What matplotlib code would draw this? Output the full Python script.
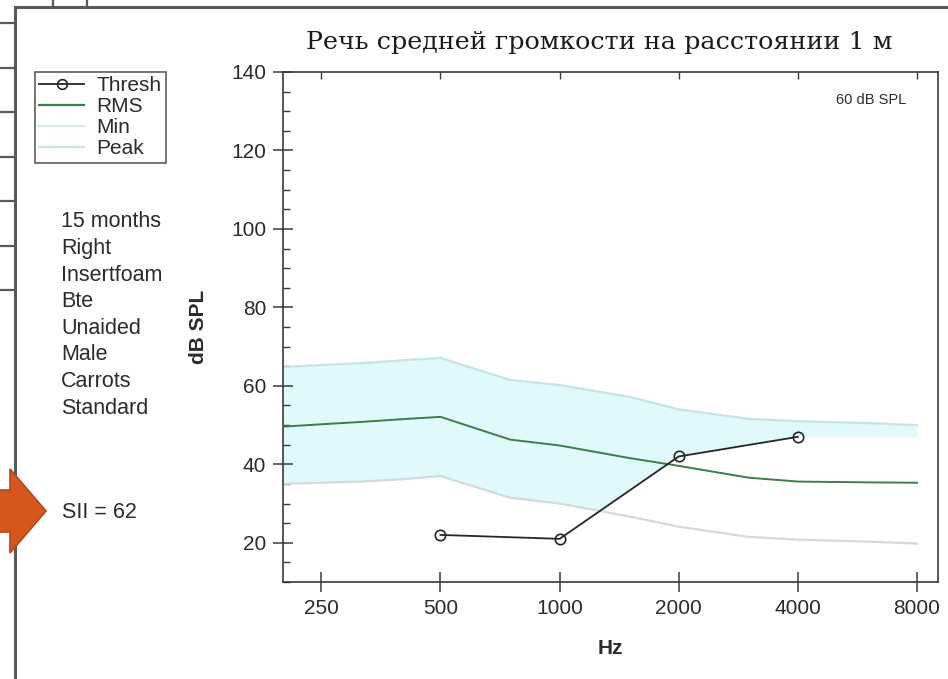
import numpy as np
import matplotlib.pyplot as plt
from matplotlib.lines import Line2D
from matplotlib.patches import Polygon
from matplotlib.ticker import FixedLocator, MultipleLocator, NullLocator, FixedFormatter

# speech spectrum (dB SPL) on a log-frequency grid
freqs = [200, 250, 315, 400, 500, 750, 1000, 1500, 2000, 3000, 4000, 6000, 8000]
peak = [64.8, 65.3, 65.8, 66.5, 67.1, 61.5, 60.2, 57.2, 54.0, 51.6, 51.0, 50.5, 50.0]
rms = [49.6, 50.2, 50.8, 51.5, 52.1, 46.3, 44.8, 41.6, 39.6, 36.6, 35.6, 35.4, 35.3]
minimum = [35.0, 35.3, 35.6, 36.2, 37.0, 31.5, 30.0, 26.7, 24.1, 21.5, 20.8, 20.3, 19.8]

# hearing threshold
thresh_freqs = [500, 1000, 2000, 4000]
thresh = [22, 21, 42, 47]

tick_freqs = [250, 500, 1000, 2000, 4000, 8000]
info_lines = ["15 months", "Right", "Insertfoam", "Bte", "Unaided", "Male", "Carrots", "Standard"]
sii = 62

W, H = 948, 679
plt.rcParams['font.family'] = ['Liberation Sans', 'DejaVu Sans']
text_col = '#2b2b2b'


def fx(x):
    return x / W


def fy(y):
    return 1 - y / H


fig = plt.figure(figsize=(W / 100, H / 100), dpi=100)
fig.patch.set_facecolor('white')

# page frame
frame_col = '#5a5a5a'
fig.add_artist(Line2D([fx(15), fx(15)], [fy(7), fy(679)], color=frame_col, lw=2.2, transform=fig.transFigure))
fig.add_artist(Line2D([fx(15), fx(948)], [fy(7), fy(7)], color=frame_col, lw=2.2, transform=fig.transFigure))
for yy in [23, 67.5, 112, 156.5, 201, 245.5, 290]:
    fig.add_artist(Line2D([0, fx(15)], [fy(yy), fy(yy)], color=frame_col, lw=1.6, transform=fig.transFigure))
for xx in [53, 87]:
    fig.add_artist(Line2D([fx(xx), fx(xx)], [fy(0), fy(7)], color=frame_col, lw=1.6, transform=fig.transFigure))

ax = fig.add_axes([fx(283), fy(582), fx(938 - 283), (582 - 72) / H])

grid = np.geomspace(200, 8000, 800)
lg = np.log(grid)
peak_g = np.interp(lg, np.log(freqs), peak)
min_g = np.interp(lg, np.log(freqs), minimum)
thr_g = np.interp(lg, np.log(thresh_freqs), thresh)
audible_low = np.maximum(min_g, thr_g)

ax.fill_between(grid, audible_low, peak_g, where=peak_g > audible_low,
                color='#e0fafb', lw=0, zorder=1)
ax.plot(freqs, peak, color='#c4e4e7', lw=1.6, zorder=2)
ax.plot(freqs, minimum, color='#d2dbdc', lw=1.6, zorder=2)
ax.plot(freqs, rms, color='#3d7d4c', lw=1.4, zorder=3)
ax.plot(thresh_freqs, thresh, color='#262626', lw=1.3, marker='o', ms=7.5,
        mfc='none', mec='#262626', mew=1.2, zorder=4)

ax.set_xscale('log')
ax.set_xlim(200, 9040)
ax.set_ylim(10, 140)
ax.xaxis.set_major_locator(FixedLocator(tick_freqs))
ax.xaxis.set_major_formatter(FixedFormatter([str(f) for f in tick_freqs]))
ax.xaxis.set_minor_locator(NullLocator())
ax.yaxis.set_major_locator(MultipleLocator(20))
ax.yaxis.set_minor_locator(MultipleLocator(5))

for s in ax.spines.values():
    s.set_color('#3a3a3a')
    s.set_linewidth(1.2)

ax.tick_params(axis='both', which='major', direction='inout', length=14, width=1.1,
               color='#3a3a3a', labelsize=15, labelcolor=text_col, pad=5)
ax.tick_params(axis='y', which='minor', direction='in', length=5, width=1.0, color='#3a3a3a')

# short inward ticks along the top edge
top = ax.secondary_xaxis('top')
top.xaxis.set_major_locator(FixedLocator(tick_freqs))
top.xaxis.set_minor_locator(NullLocator())
top.tick_params(direction='in', length=5, width=1.0, color='#3a3a3a', labeltop=False)
top.spines['top'].set_visible(False)

ax.set_xlabel('Hz', fontsize=15, fontweight='bold', color=text_col)
ax.xaxis.set_label_coords(0.5, -0.112)
ax.set_ylabel('dB SPL', fontsize=15, fontweight='bold', color=text_col)
ax.yaxis.set_label_coords(-0.115, 0.5)

ax.text(0.951, 0.945, '60 dB SPL', transform=ax.transAxes, ha='right', va='center',
        fontsize=10.5, color=text_col)

fig.text(fx(599), fy(42), 'Речь средней громкости на расстоянии 1 м', ha='center', va='center',
         fontsize=18.3, family='DejaVu Serif', color='#1a1a1a')

handles = [
    Line2D([], [], color='#262626', lw=1.3, marker='o', ms=7, mfc='none', mew=1.2),
    Line2D([], [], color='#3d7d4c', lw=1.6),
    Line2D([], [], color='#d2ebeb', lw=1.6),
    Line2D([], [], color='#cbe2e2', lw=1.6),
]
leg = fig.legend(handles, ['Thresh', 'RMS', 'Min', 'Peak'], loc='upper left',
                 bbox_to_anchor=(fx(35), fy(72)), bbox_transform=fig.transFigure,
                 fontsize=15, frameon=True, fancybox=False, borderpad=0.2,
                 labelspacing=0.1, handlelength=2.15, handletextpad=0.6, borderaxespad=0)
leg.get_frame().set_edgecolor('#333333')
leg.get_frame().set_linewidth(1.2)
for t in leg.get_texts():
    t.set_color(text_col)

for i, line in enumerate(info_lines):
    fig.text(fx(61), fy(222 + i * 26.6), line, ha='left', va='center', fontsize=15.5, color=text_col)

fig.text(fx(62), fy(513), f'SII = {sii}', ha='left', va='center', fontsize=15.5, color=text_col)

arrow_px = [(-5, 490), (10, 490), (10, 469), (46, 511), (10, 553), (10, 532), (-5, 532)]
fig.add_artist(Polygon([(fx(x), fy(y)) for x, y in arrow_px], closed=True,
                       facecolor='#d6561c', edgecolor='#b9461a', lw=1.2,
                       transform=fig.transFigure, zorder=5))

fig.savefig('out.png', dpi=100)
